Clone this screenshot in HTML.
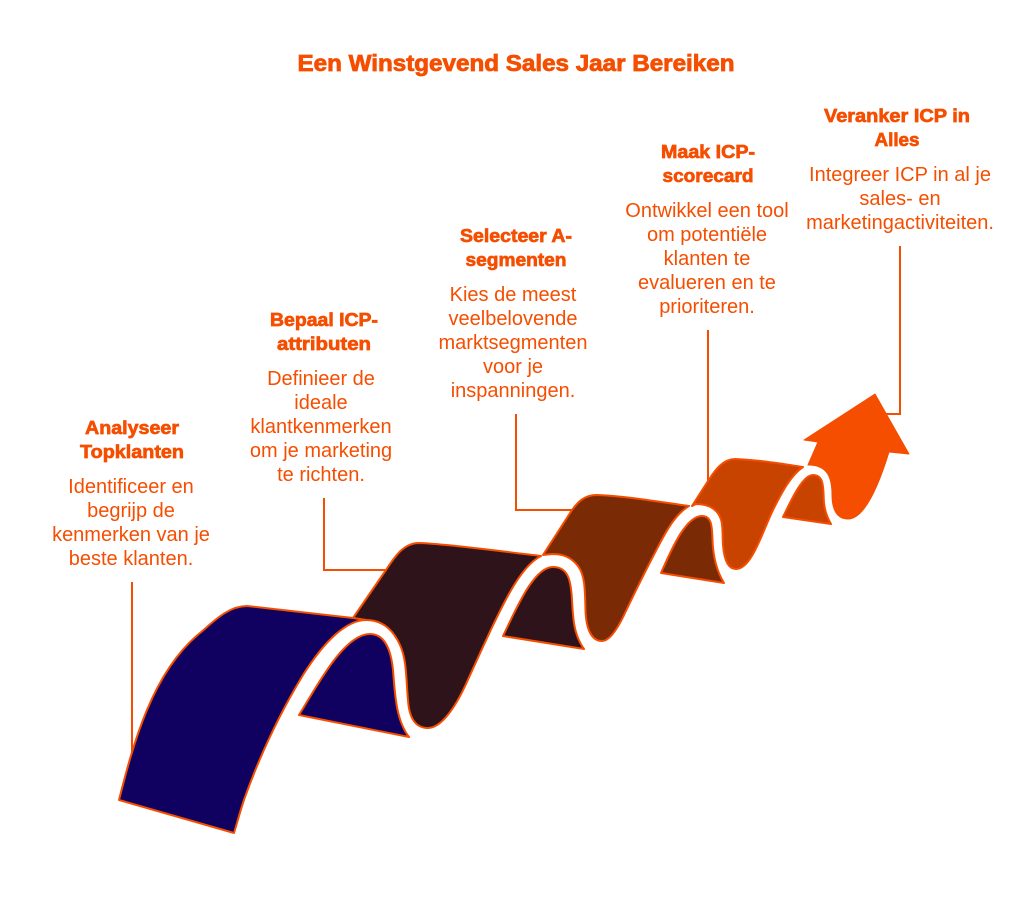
<!DOCTYPE html>
<html><head><meta charset="utf-8"><style>
html,body{margin:0;padding:0;background:#fff;width:1032px;height:906px;overflow:hidden}
svg{display:block}
text{font-family:"Liberation Sans",sans-serif;fill:#F54E00;text-anchor:middle}
.h{font-weight:bold;font-size:18.5px;stroke:#F54E00;stroke-width:.7px}
.b{font-size:20px}
.t{font-weight:bold;font-size:23px;stroke:#F54E00;stroke-width:.8px}
.s{stroke:#F54E00;stroke-width:2;stroke-linejoin:round}
.c{fill:none;stroke:#F54E00;stroke-width:2}
</style></head><body>
<svg width="1032" height="906" viewBox="0 0 1032 906" xmlns="http://www.w3.org/2000/svg">
<rect width="1032" height="906" fill="#fff"/>
<text class="t" x="516" y="71" textLength="437" lengthAdjust="spacingAndGlyphs">Een Winstgevend Sales Jaar Bereiken</text>

<path class="c" d="M132 582V770"/>
<path class="c" d="M324 498V570H390"/>
<path class="c" d="M516 414V510H575"/>
<path class="c" d="M708 330V482"/>
<path class="c" d="M900 246V414H885"/>

<!-- arrow -->
<path d="M808 465L818 442L804 440L875 394L909 454L889 452C881 478 866 519 848 519C836 519 832 508 832 495C832 478 828 465 808 465Z" fill="#F54E00" stroke="#F54E00" stroke-width="1" stroke-linejoin="round"/>

<!-- orange segment -->
<path class="s" fill="#C84200" d="M692 506L708 481C714 472 722 459 735 459C760 460 783 464 803 467C791 475 782 492 773 510C763 530 752 569 736 569C727 569 724 558 723 545C722 530 724 519 716 511C711 506 704 504 696 504Z"/>
<path class="s" fill="#C84200" d="M783 517C790 503 802 475 813 475C825 475 823 490 824 503C825 512 828 519 831 524Z"/>

<!-- brown segment -->
<path class="s" fill="#7B2A06" d="M543 555L572 510C578 502 584 495 597 495C625 496 660 502 689 506C676 514 668 528 660 543C650 562 635 592 625 613C618 628 610 641 602 641C592 641 586 630 585.500 610C585 590 585 575 578 566C571 557 563 554 552 554Z"/>
<path class="s" fill="#7B2A06" d="M661 573C670 553 685 516 702 516C712 516 712 527 712.500 540C713 555 716 570 724 583Z"/>

<!-- dark segment -->
<path class="s" fill="#2F131B" d="M353 618L386 570C394 558 403 543 419 543C450 544 505 552 541 556C529 562 519 576 510 592C497 615 482 649 466 684C455 708 441 728 428 728C414 728 409 716 408 700C406 680 407 660 400 645C392 627 380 620 366 620Z"/>
<path class="s" fill="#2F131B" d="M503 636C515 612 533 567 553 567C568 567 571 580 572 600C573 620 574 635 584 649Z"/>

<!-- blue segment -->
<path class="s" fill="#100060" d="M119 800C133 745 152 672 200 633C213 622 228 606 247 606L353 618L366 620C347 620 325 640 303 675C283 708 262 750 245 797C241 808 238 820 234 833Z"/>
<path class="s" fill="#100060" d="M299 715C315 690 343 634 370 634C385 634 391 650 393 670C395 695 396 720 409 737Z"/>

<!-- labels -->
<text class="h" x="132" y="434" textLength="94" lengthAdjust="spacingAndGlyphs">Analyseer</text>
<text class="h" x="132" y="458" textLength="104" lengthAdjust="spacingAndGlyphs">Topklanten</text>
<text class="b" x="131" y="493">Identificeer en</text>
<text class="b" x="131" y="517">begrijp de</text>
<text class="b" x="131" y="541">kenmerken van je</text>
<text class="b" x="131" y="565">beste klanten.</text>

<text class="h" x="324" y="326" textLength="108" lengthAdjust="spacingAndGlyphs">Bepaal ICP-</text>
<text class="h" x="324" y="350" textLength="94" lengthAdjust="spacingAndGlyphs">attributen</text>
<text class="b" x="321" y="385">Definieer de</text>
<text class="b" x="321" y="409">ideale</text>
<text class="b" x="321" y="433">klantkenmerken</text>
<text class="b" x="321" y="457">om je marketing</text>
<text class="b" x="321" y="481">te richten.</text>

<text class="h" x="516" y="242" textLength="112" lengthAdjust="spacingAndGlyphs">Selecteer A-</text>
<text class="h" x="516" y="266" textLength="101" lengthAdjust="spacingAndGlyphs">segmenten</text>
<text class="b" x="513" y="301">Kies de meest</text>
<text class="b" x="513" y="325">veelbelovende</text>
<text class="b" x="513" y="349">marktsegmenten</text>
<text class="b" x="513" y="373">voor je</text>
<text class="b" x="513" y="397">inspanningen.</text>

<text class="h" x="708" y="158" textLength="94" lengthAdjust="spacingAndGlyphs">Maak ICP-</text>
<text class="h" x="708" y="182" textLength="91" lengthAdjust="spacingAndGlyphs">scorecard</text>
<text class="b" x="707" y="217">Ontwikkel een tool</text>
<text class="b" x="707" y="241">om potentiële</text>
<text class="b" x="707" y="265">klanten te</text>
<text class="b" x="707" y="289">evalueren en te</text>
<text class="b" x="707" y="313">prioriteren.</text>

<text class="h" x="897" y="122" textLength="146" lengthAdjust="spacingAndGlyphs">Veranker ICP in</text>
<text class="h" x="897" y="146" textLength="45" lengthAdjust="spacingAndGlyphs">Alles</text>
<text class="b" x="900" y="181">Integreer ICP in al je</text>
<text class="b" x="900" y="205">sales- en</text>
<text class="b" x="900" y="229">marketingactiviteiten.</text>
</svg>
</body></html>
